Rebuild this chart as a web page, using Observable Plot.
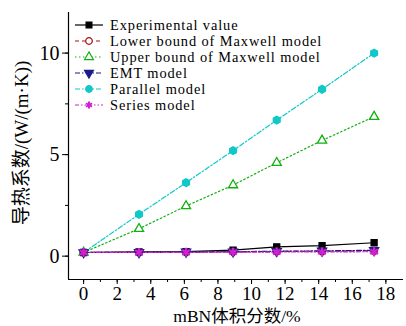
<!DOCTYPE html>
<html><head><meta charset="utf-8">
<script src="https://cdn.jsdelivr.net/npm/d3@7"></script>
<script src="https://cdn.jsdelivr.net/npm/@observablehq/plot@0.6"></script>
<style>body{margin:0;background:#fff}</style>
</head><body><div id="chart"></div>
<script>
const fractions = [0, 3.3, 6.1, 8.9, 11.5, 14.2, 17.3];
const experimental = [0.18, 0.21, 0.22, 0.30, 0.46, 0.52, 0.66];
const lowerMaxwell = [0.18, 0.19, 0.20, 0.21, 0.23, 0.24, 0.26];
const upperMaxwell = [0.18, 1.35, 2.47, 3.50, 4.60, 5.70, 6.87];
const emt = [0.18, 0.19, 0.21, 0.22, 0.24, 0.26, 0.29];
const parallel = [0.18, 2.06, 3.62, 5.20, 6.70, 8.22, 10.0];
const seriesModel = [0.18, 0.185, 0.19, 0.196, 0.203, 0.21, 0.218];
const seriesNames = ["Experimental value", "Lower bound of Maxwell model", "Upper bound of Maxwell model", "EMT model", "Parallel model", "Series model"];
const xTicks = [0, 2, 4, 6, 8, 10, 12, 14, 16, 18];
const yTicks = [0, 5, 10];

const values = [experimental, lowerMaxwell, upperMaxwell, emt, parallel, seriesModel];
const styles = [
  {color: "#000000", dash: null, symbol: "square", fill: true, rotate: 0},
  {color: "#b01010", dash: "4,3", symbol: "circle", fill: false, rotate: 0},
  {color: "#10b010", dash: "1.5,2.5", symbol: "triangle", fill: false, rotate: 0},
  {color: "#1a1a8c", dash: "5,2,1.5,2", symbol: "triangle", fill: true, rotate: 180},
  {color: "#10c8c8", dash: "5,2,1.5,2", symbol: "hexagon", fill: true, rotate: 0},
  {color: "#d020d0", dash: "4,2,1.5,2,1.5,2", symbol: "asterisk", fill: true, rotate: 0}
];

const font = "'Liberation Serif','Times New Roman','Noto Sans CJK SC',serif";
const drawOrder = [4, 2, 0, 1, 3, 5];
const marks = [];
for (const i of drawOrder) {
  const st = styles[i];
  const rows = fractions.map((x, j) => ({x, y: values[i][j]}));
  marks.push(Plot.line(rows, {x: "x", y: "y", stroke: st.color, strokeWidth: 1.2, strokeDasharray: st.dash}));
}
for (const i of drawOrder) {
  const st = styles[i];
  const rows = fractions.map((x, j) => ({x, y: values[i][j]}));
  marks.push(Plot.dot(rows, {x: "x", y: "y", symbol: () => st.symbol, r: st.symbol === "asterisk" ? 4.2 : 3.4,
    stroke: st.color, strokeWidth: st.symbol === "asterisk" ? 2.2 : 1.3,
    fill: st.symbol === "asterisk" ? "none" : (st.fill ? st.color : "white"), rotate: st.rotate}));
}

const chart = Plot.plot({
  width: 406, height: 326,
  marginLeft: 68, marginRight: 3, marginTop: 12, marginBottom: 47,
  style: {fontFamily: font, background: "white", color: "#000"},
  x: {domain: [-0.9, 19.05], label: null},
  y: {domain: [-1.15, 12.0], label: null},
  symbol: {type: "identity"},
  marks: [
    Plot.ruleX([-0.9], {stroke: "#000", strokeWidth: 1.2}),
    Plot.ruleY([-1.15], {stroke: "#000", strokeWidth: 1.2}),
    Plot.axisX(d3.range(0, 19, 1), {tickSize: 3, tickFormat: () => "", label: null, stroke: "#000"}),
    Plot.axisX(xTicks, {tickSize: 5, tickPadding: 2, fontSize: 19, label: null, stroke: "#000"}),
    Plot.axisY(d3.range(0, 12.5, 2.5), {tickSize: 3, tickFormat: () => "", label: null, stroke: "#000"}),
    Plot.axisY(yTicks, {tickSize: 6, tickPadding: 3, fontSize: 20, label: null, stroke: "#000"}),
    ...marks
  ]
});

const svg = d3.select(chart);
svg.append("text").attr("x", 237).attr("y", 322).attr("text-anchor", "middle")
  .style("font-family", font).style("font-size", "17.5px").text("mBN体积分数/%");
svg.append("text").attr("transform", "translate(28,143) rotate(-90)").attr("text-anchor", "middle")
  .style("font-family", font).style("font-size", "19px").text("导热系数/(W/(m·K))");

const lg = svg.append("g").attr("text-anchor", "start");
const symMap = {square: d3.symbolSquare, circle: d3.symbolCircle, triangle: d3.symbolTriangle, hexagon: d3.symbolCircle, asterisk: d3.symbolAsterisk};
seriesNames.forEach((name, i) => {
  const st = styles[i];
  const yy = 25 + i * 16;
  lg.append("line").attr("x1", 75).attr("x2", 103).attr("y1", yy).attr("y2", yy)
    .attr("stroke", st.color).attr("stroke-width", 1.2).attr("stroke-dasharray", st.dash);
  lg.append("path").attr("d", d3.symbol(symMap[st.symbol], 34)())
    .attr("transform", `translate(89,${yy}) rotate(${st.rotate})`)
    .attr("stroke", st.color).attr("stroke-width", st.symbol === "asterisk" ? 2 : 1.2)
    .attr("fill", st.symbol === "asterisk" ? "none" : (st.fill ? st.color : "white"));
  lg.append("text").attr("x", 110).attr("y", yy + 5).attr("text-anchor", "start")
    .style("font-family", font).style("font-size", "14.4px").style("letter-spacing", "0.9px").text(name);
});
document.getElementById("chart").appendChild(chart);
</script>
</body></html>
